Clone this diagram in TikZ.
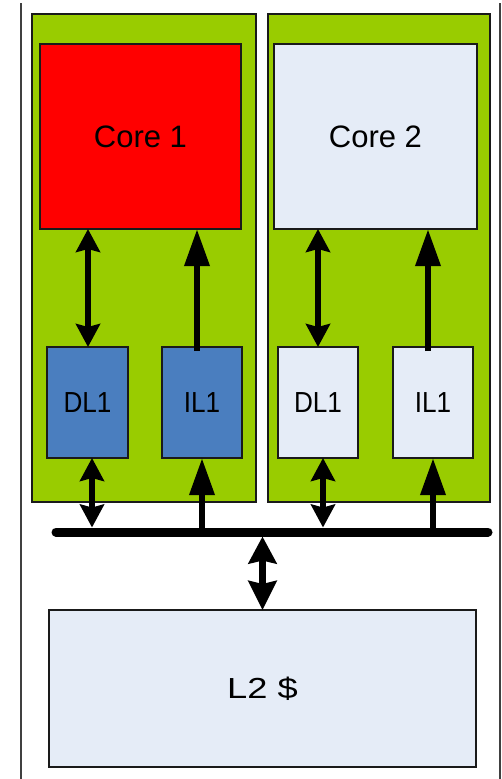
\documentclass[tikz,border=0pt]{standalone}
\usepackage{fontspec}
\setmainfont{Liberation Sans}
\usepackage{graphicx}
\usetikzlibrary{arrows.meta}
\definecolor{chipgreen}{HTML}{99CC00}
\definecolor{corered}{HTML}{FF0000}
\definecolor{l1blue}{HTML}{4A7EBF}
\definecolor{paleblue}{HTML}{E5ECF7}
\definecolor{edge}{HTML}{1A1A1A}
\definecolor{frameline}{HTML}{404040}
\tikzset{
  blk/.style={draw=edge, line width=1.2pt, anchor=north west, inner sep=0pt, outer sep=0pt},
  chip/.style={blk, fill=chipgreen},
  corebox/.style={blk, font=\fontsize{31}{31}\selectfont},
  l1box/.style={blk, font=\fontsize{29}{29}\selectfont},
  dbl/.style={line width=6.5pt, {Stealth[width=24pt,length=23pt,inset=3pt]}-{Stealth[width=24pt,length=23pt,inset=3pt]}},
  uparr/.style={line width=6.5pt, -{Triangle[width=24pt,length=37pt]}},
  bus/.style={line width=9pt, line cap=round},
  frame/.style={draw=frameline, line width=2pt}
}
\begin{document}
\begin{tikzpicture}[x=1pt, y=-1pt]
\useasboundingbox[fill=white] (0,0) rectangle (501,779);
% outer frame lines
\coordinate (fTL) at (21,3);
\coordinate (fBL) at (21,779);
\coordinate (fTR) at (499.5,3);
\coordinate (fBR) at (499.5,779);
\draw[frame] (fTL) -- (fBL);
\draw[frame] (fTR) -- (fBR);
% chips
\node[chip, minimum width=224pt, minimum height=488pt] (G1) at (32,14) {};
\node[chip, minimum width=222pt, minimum height=488pt] (G2) at (268,14) {};
% cores
\node[corebox, fill=corered, minimum width=201pt, minimum height=185pt] (C1) at (40,44) {Core 1};
\node[corebox, fill=paleblue, minimum width=203pt, minimum height=185pt] (C2) at (274,44) {Core 2};
% L1 caches
\node[l1box, fill=l1blue, minimum width=81pt, minimum height=111pt] (D1) at (47,347) {\scalebox{0.9}[1]{DL1}};
\node[l1box, fill=l1blue, minimum width=80pt, minimum height=111pt] (I1) at (162,347) {\scalebox{0.9}[1]{IL1}};
\node[l1box, fill=paleblue, minimum width=80pt, minimum height=111pt] (D2) at (278,347) {\scalebox{0.9}[1]{DL1}};
\node[l1box, fill=paleblue, minimum width=80pt, minimum height=111pt] (I2) at (393,347) {\scalebox{0.9}[1]{IL1}};
% L2
\node[l1box, fill=paleblue, minimum width=427pt, minimum height=157pt] (L2) at (49,610) {\scalebox{1.25}[1]{L2 \$}};
% bus
\coordinate (busL) at (56,532);
\coordinate (busR) at (488,532);
\coordinate (busT) at (263,527.5);
\coordinate (busB) at (263,536.5);
\draw[bus] (busL) -- (busR);
% core <-> L1
\draw[dbl] ([xshift=0.5pt]D1.north) -- ([xshift=0.5pt]D1.north |- C1.south);
\draw[uparr] ([xshift=-5pt,yshift=-4pt]I1.north) -- ([xshift=-5pt]I1.north |- C1.south);
\draw[dbl] (D2.north) -- (D2.north |- C2.south);
\draw[uparr] ([xshift=-5pt,yshift=-4pt]I2.north) -- ([xshift=-5pt]I2.north |- C2.south);
% L1 <-> bus
\draw[dbl] ([xshift=4.5pt]D1.south) -- ([xshift=4.5pt]D1.south |- busT);
\draw[uparr] (I1.south |- busL) -- (I1.south);
\draw[dbl] ([xshift=5pt]D2.south) -- ([xshift=5pt]D2.south |- busT);
\draw[uparr] (I2.south |- busL) -- (I2.south);
% bus <-> L2
\draw[line width=6.5pt, {Stealth[width=28pt,length=27pt,inset=3pt]}-{Stealth[width=28pt,length=29pt,inset=3pt]}] (L2.north |- busB) -- (L2.north);
\end{tikzpicture}
\end{document}
